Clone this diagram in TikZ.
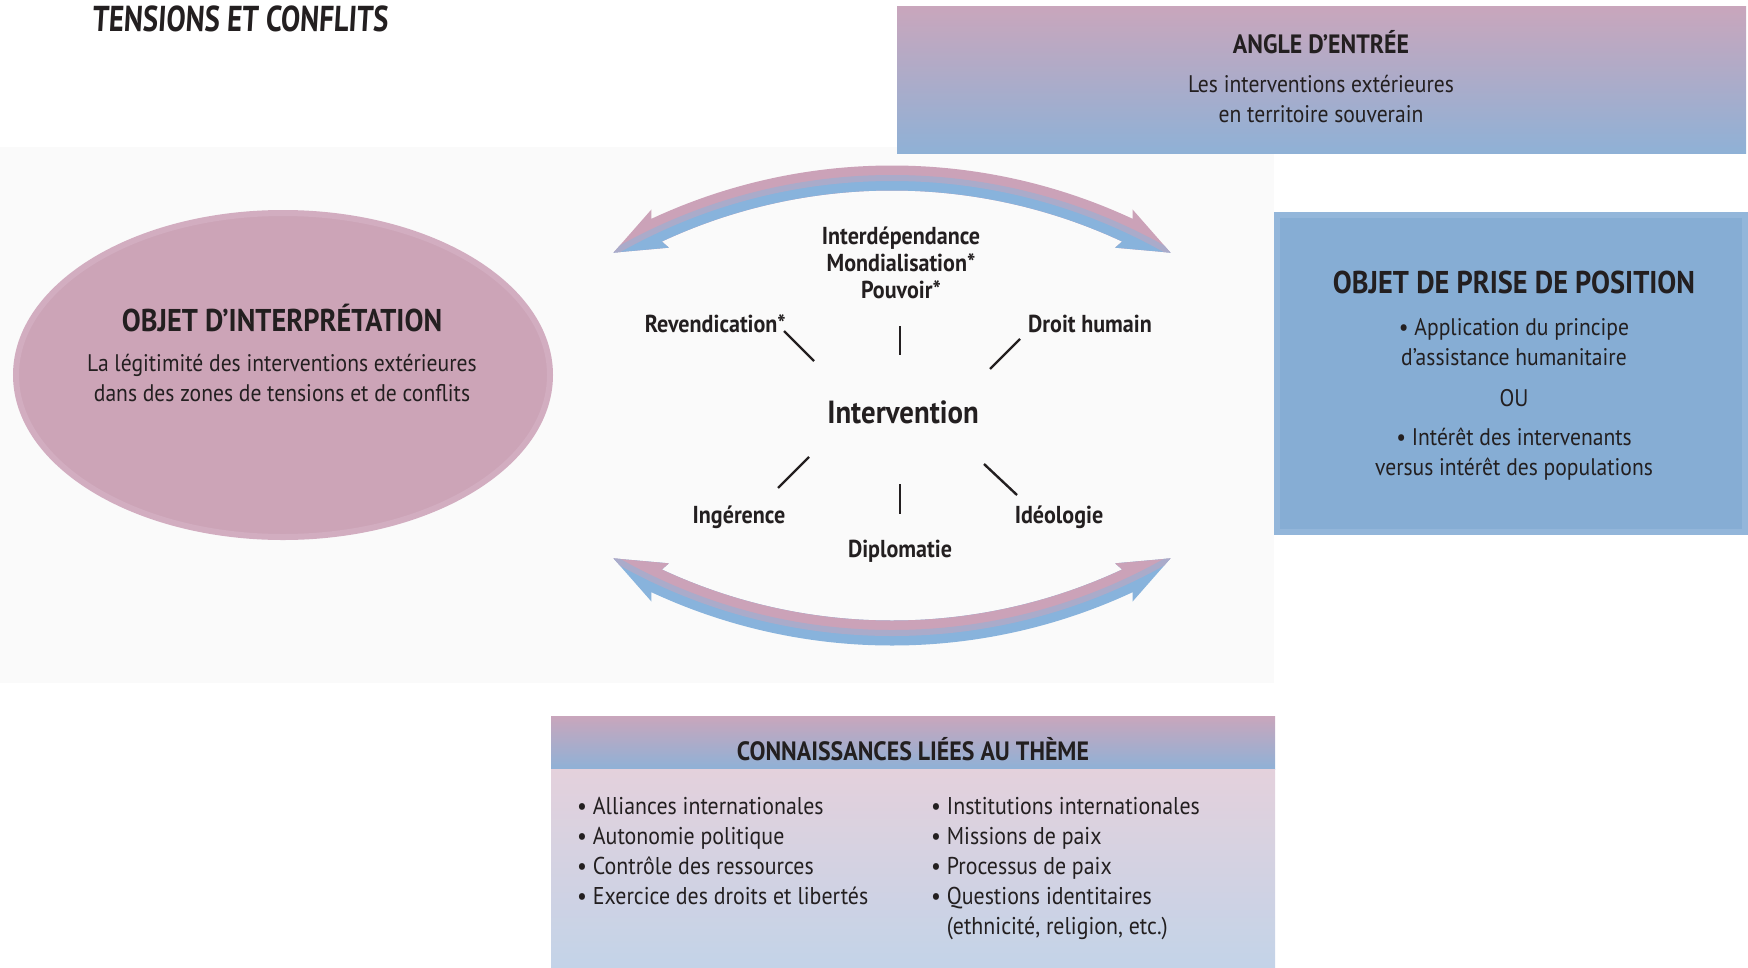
\documentclass[tikz,border=0pt]{standalone}
\usepackage{fontspec}
\setmainfont{PT Sans}[FakeStretch=0.9]
\newfontfamily\handfont{PT Sans}[FakeStretch=0.8, FakeSlant=0.06]
\usetikzlibrary{positioning}
\definecolor{ink}{HTML}{231F20}
\definecolor{arrowpink}{HTML}{CBA2B8}
\definecolor{arrowblue}{HTML}{88B3DC}
\definecolor{ellfill}{HTML}{CCA4B7}
\definecolor{ellrim}{HTML}{D2ADC0}
\definecolor{boxblue}{HTML}{86ADD4}
\definecolor{boxrim}{HTML}{93B6DA}
\definecolor{headpink}{HTML}{C9A6BC}
\definecolor{headblue}{HTML}{8FB1D6}
\definecolor{bodypink}{HTML}{E4D1DC}
\definecolor{bodyblue}{HTML}{C3D3E8}
\definecolor{bggray}{HTML}{FAFAFA}
\newcommand{\bul}{\textbullet\ }

\tikzset{
	txt/.style={text=ink, inner sep=0pt, align=center, font=\fontsize{24}{30.5}\selectfont},
	hd/.style={text=ink, inner sep=0pt, align=center, font=\bfseries\fontsize{26.5}{30}\selectfont},
	big/.style={text=ink, inner sep=0pt, font=\bfseries\fontsize{31.5}{34}\selectfont},
	lbl/.style={text=ink, inner sep=0pt, align=center, font=\bfseries\fontsize{24.5}{27}\selectfont},
	lst/.style={text=ink, inner sep=0pt, anchor=base west, font=\fontsize{24.3}{30}\selectfont},
	tick/.style={draw=ink, line width=2.4pt},
	pics/bandarrow/.style 2 args={code={
		\begin{scope}
		\clip (-115:569.5) arc[start angle=-115, end angle=-65, radius=569.5] -- (-65.4:578) -- (-60:557) -- (-65.4:536) -- (-65:544.5) arc[start angle=-65, end angle=-115, radius=544.5] -- (-114.6:536) -- (-120:557) -- (-114.6:578) -- cycle;
		\fill[#1] (-700,-700) rectangle (700,0);
		\fill[#2] (0,0) circle[radius=557];
		\draw[#1!50!#2, line width=6pt] (0,0) circle[radius=557];
		\end{scope}
	}}
}

\begin{document}
\begin{tikzpicture}[x=1pt, y=-1pt, >=stealth]
\useasboundingbox (0,0) rectangle (1748,967);
\fill[bggray] (0,147) rectangle (1274,683);

\node[text=ink, inner sep=0pt, font=\handfont\bfseries\fontsize{36}{36}\selectfont] (theme) at (240,19) {TENSIONS ET CONFLITS};

\shade[top color=headpink, bottom color=headblue] (897,6) rectangle (1746,153);
\node[hd] (angle) at (1321,42) {ANGLE D’ENTRÉE};
\node[txt] (angletxt) at (1321,99) {Les interventions extérieures\\en territoire souverain};

\draw[ellrim, fill=ellfill, line width=6pt] (283,375) ellipse[x radius=267, y radius=162];
\node[big] (interp) at (282,318) {OBJET D’INTERPRÉTATION};
\node[txt] (interptxt) at (282,378) {La légitimité des interventions extérieures\\dans des zones de tensions et de conflits};

\fill[boxblue] (1274,212) rectangle (1748,535);
\draw[boxrim, line width=6pt] (1277,215) rectangle (1745,532);
\node[big] (prise) at (1514,282) {OBJET DE PRISE DE POSITION};
\node[txt] (prisetxt1) at (1514,342) {\bul Application du principe\\d’assistance humanitaire};
\node[txt] (ou) at (1514,398) {OU};
\node[txt] (prisetxt2) at (1514,454) {\bul Intérêt des intervenants\\versus intérêt des populations};

\pic at (892,735) {bandarrow={arrowpink}{arrowblue}};
\pic[yscale=-1] at (892,76) {bandarrow={arrowblue}{arrowpink}};

\node[lbl] (notions) at (901,263) {Interdépendance\\Mondialisation*\\Pouvoir*};
\node[lbl, anchor=east] (rev) at (786,324) {Revendication*};
\node[lbl, anchor=west] (droit) at (1028,324) {Droit humain};
\node[text=ink, inner sep=0pt, font=\bfseries\fontsize{32}{32}\selectfont] (interv) at (903,412) {Intervention};
\node[lbl] (ing) at (739,517) {Ingérence};
\node[lbl] (dipl) at (900,551) {Diplomatie};
\node[lbl] (ideo) at (1059,517) {Idéologie};

\foreach \n/\xa/\ya/\xb/\yb in {r/784/331/814/361, p/900/326/900/355, d/1020/339/990/369, g/809/457/778/488, m/900/484/900/514, o/984/464/1017/495}
{
	\coordinate (\n a) at (\xa,\ya);
	\coordinate (\n b) at (\xb,\yb);
	\draw[tick] (\n a) -- (\n b);
}

\shade[top color=headpink, bottom color=headblue] (551,716) rectangle (1275,769);
\shade[top color=bodypink, bottom color=bodyblue] (551,769) rectangle (1275,967);
\node[hd] (conn) at (913,749) {CONNAISSANCES LIÉES AU THÈME};
\foreach \t [count=\i] in {Alliances internationales, Autonomie politique, Contrôle des ressources, Exercice des droits et libertés}
	\node[lst] (left\i) at (577,{784+30*\i}) {\bul\t};
\foreach \t [count=\i] in {Institutions internationales, Missions de paix, Processus de paix, Questions identitaires}
	\node[lst] (right\i) at (931,{784+30*\i}) {\bul\t};
\node[lst] (right5) at (931,934) {\hphantom{\bul}(ethnicité, religion, etc.)};

\end{tikzpicture}
\end{document}
